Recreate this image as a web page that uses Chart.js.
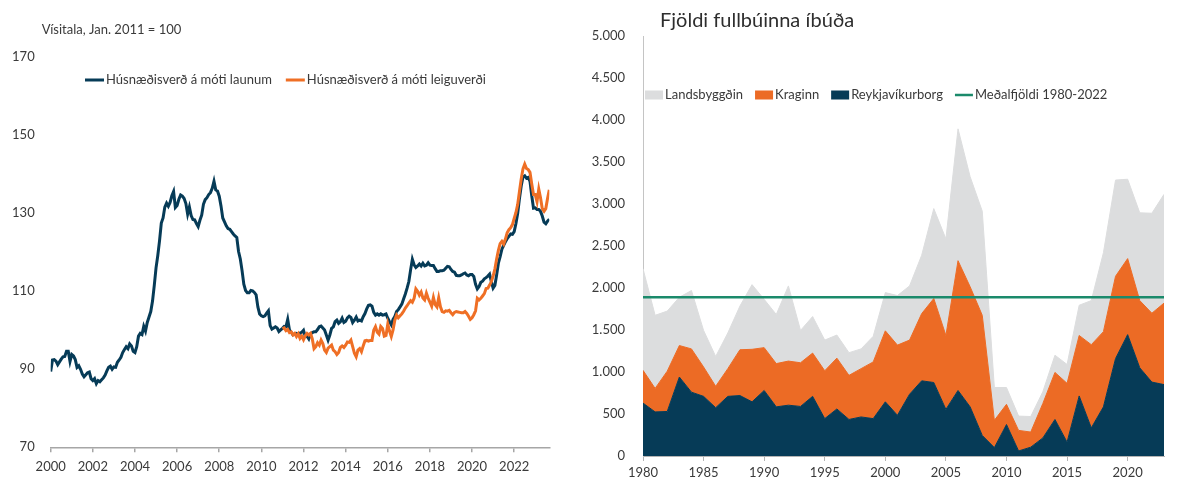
<!DOCTYPE html>
<html lang="is">
<head>
<meta charset="utf-8">
<title>Húsnæðisverð og fullbúnar íbúðir</title>
<script src="https://cdn.jsdelivr.net/npm/chart.js@4.4.1/dist/chart.umd.min.js"></script>
<style>
  html, body { margin: 0; padding: 0; background: #fff; }
  body { width: 1179px; height: 483px; position: relative; overflow: hidden; }
  .panel { position: absolute; top: 0; height: 483px; }
  #left { left: 0; width: 585px; }
  #right { left: 585px; width: 594px; }
</style>
</head>
<body>
<div class="panel" id="left"><canvas id="verdChart"></canvas></div>
<div class="panel" id="right"><canvas id="ibudirChart"></canvas></div>
<script>
// Vinstri mynd: vísitölur, mánaðargildi
const launumFra = 2000;   // jan. 2000
const launum = [
  89.4, 92.4, 92.5, 92.1, 91.2, 91.9, 92.6, 93.2, 93.3, 94.6, 94.6, 92.0,
  93.8, 93.4, 92.5, 90.5, 90.9, 90.0, 88.8, 88.1, 88.6, 89.1, 89.3, 87.6,
  87.1, 87.6, 86.3, 87.1, 86.8, 87.3, 87.8, 88.5, 89.6, 90.5, 90.8, 90.0,
  90.6, 90.5, 91.8, 92.4, 93.1, 94.3, 95.1, 95.8, 95.3, 96.5, 96.0, 94.6,
  94.3, 95.8, 98.5, 99.2, 98.9, 101.0, 99.8, 102.0, 103.4, 104.8, 107.5, 111.5,
  116.0, 119.2, 123.0, 127.5, 128.8, 131.6, 132.6, 131.8, 132.8, 134.5, 135.6, 131.5,
  132.0, 133.6, 134.7, 134.4, 133.8, 132.5, 129.8, 131.6, 129.4, 128.4, 128.3, 127.4,
  126.6, 128.2, 129.5, 132.3, 133.5, 134.0, 134.8, 135.3, 136.4, 138.2, 136.0, 135.7,
  134.4, 131.9, 128.8, 127.8, 126.8, 126.1, 125.9, 125.3, 124.7, 124.2, 123.8, 120.2,
  118.3, 115.3, 111.8, 110.2, 109.6, 109.6, 110.2, 110.1, 109.7, 109.1, 106.0, 104.2,
  103.7, 103.5, 103.7, 104.4, 105.0, 101.2, 100.3, 100.6, 100.9, 100.6, 99.7, 100.1,
  100.5, 101.0, 100.9, 102.8, 100.1, 99.5, 98.8, 99.0, 99.2, 98.9, 99.3, 99.5,
  100.0, 98.4, 98.5, 97.8, 99.1, 99.4, 99.6, 99.6, 100.2, 100.9, 101.1, 100.6,
  100.1, 98.8, 97.5, 98.8, 100.5, 100.9, 102.2, 102.6, 101.8, 102.2, 103.1, 102.0,
  102.3, 103.2, 103.6, 103.3, 102.0, 102.6, 103.4, 102.4, 102.6, 102.4, 103.5, 104.3,
  105.5, 106.4, 106.5, 106.2, 104.6, 103.9, 104.2, 103.9, 104.2, 103.9, 104.0, 104.2,
  103.1, 102.2, 101.4, 102.8, 103.5, 104.8, 105.3, 106.0, 106.7, 108.0, 109.3, 110.8,
  112.5, 115.5, 118.2, 116.8, 116.1, 116.5, 117.0, 116.5, 117.2, 116.5, 116.7, 117.3,
  116.7, 116.6, 116.6, 115.8, 115.1, 115.1, 115.3, 115.3, 115.4, 115.9, 116.4, 116.3,
  115.6, 115.1, 114.9, 114.1, 114.0, 114.0, 114.2, 114.5, 114.7, 114.2, 114.0, 114.3,
  114.3, 113.8, 111.8, 110.6, 111.2, 112.3, 112.6, 113.2, 113.5, 113.9, 114.4, 112.5,
  110.8, 111.5, 114.2, 117.2, 118.9, 120.8, 121.8, 122.7, 123.5, 124.1, 124.7, 124.6,
  125.3, 127.4, 130.0, 133.8, 137.0, 139.3, 139.6, 139.0, 139.2, 138.2, 134.5, 131.3,
  131.4, 131.0, 131.0, 130.5, 129.3, 127.7, 127.3, 128.0, 128.5
];
const leiguFra = 2011;    // jan. 2011
const leiguverdi = [
  100.4, 100.6, 99.9, 100.2, 99.4, 99.6, 98.8, 99.2, 98.4, 99.1, 97.9, 98.5,
  97.6, 98.6, 99.2, 98.8, 99.2, 97.8, 95.3, 95.8, 96.8, 96.2, 97.5, 96.6,
  94.9, 94.3, 95.4, 95.8, 96.2, 94.9, 94.5, 93.8, 94.3, 95.6, 96.0, 95.6,
  96.2, 97.0, 96.9, 97.5, 95.8, 94.1, 93.2, 94.9, 95.3, 94.5, 96.0, 97.3,
  97.4, 97.2, 97.4, 97.4, 100.0, 100.9, 99.5, 99.0, 101.0, 100.5, 98.5, 98.7,
  101.6, 99.8, 98.4, 100.1, 102.6, 103.9, 103.2, 103.7, 104.2, 104.9, 105.7, 106.3,
  107.0, 107.6, 107.2, 108.2, 110.6, 110.0, 109.0, 109.8, 108.3, 107.8, 109.5, 108.2,
  107.2, 106.2, 108.4, 106.6, 106.0, 108.3, 106.0, 104.8, 104.6, 105.0, 104.9, 105.1,
  104.5, 104.0, 104.6, 104.8, 104.7, 104.6, 104.5, 104.5, 104.8, 104.3, 103.6, 102.8,
  103.2, 104.0, 105.0, 108.2, 107.8, 108.2, 108.8, 109.4, 110.7, 110.8, 111.6, 112.5,
  113.9, 115.7, 118.3, 120.5, 122.2, 122.8, 122.1, 123.4, 125.0, 125.8, 126.3, 127.1,
  128.7, 130.2, 132.3, 135.6, 138.8, 141.4, 142.6, 141.5, 141.2, 140.5, 137.5, 134.8,
  134.8, 133.0, 136.2, 134.0, 131.2, 130.5, 131.2, 133.8, 136.0
];
const visitalaTicks = [70, 90, 110, 130, 150, 170];
const verdArTicks = [2000, 2002, 2004, 2006, 2008, 2010, 2012, 2014, 2016, 2018, 2020, 2022];

// Hægri mynd: fullbúnar íbúðir eftir landsvæðum
const ar = [1980, 1981, 1982, 1983, 1984, 1985, 1986, 1987, 1988, 1989,
            1990, 1991, 1992, 1993, 1994, 1995, 1996, 1997, 1998, 1999,
            2000, 2001, 2002, 2003, 2004, 2005, 2006, 2007, 2008, 2009,
            2010, 2011, 2012, 2013, 2014, 2015, 2016, 2017, 2018, 2019,
            2020, 2021, 2022, 2023];
const reykjavik = [630, 525, 530, 940, 760, 710, 575, 710, 720, 645,
                   780, 585, 605, 590, 710, 445, 560, 435, 465, 445,
                   645, 485, 735, 895, 875, 555, 780, 585, 245, 100,
                   375, 60, 105, 215, 435, 165, 715, 335, 585, 1160,
                   1445, 1050, 880, 850];
const kraginn = [390, 280, 480, 375, 515, 350, 255, 330, 545, 625,
                 510, 515, 525, 520, 515, 570, 605, 525, 575, 675,
                 845, 835, 645, 800, 1000, 880, 1545, 1430, 1430, 325,
                 240, 245, 180, 410, 560, 700, 720, 990, 895, 980,
                 905, 800, 820, 970];
const landsbyggdin = [1210, 870, 715, 575, 695, 435, 355, 425, 520, 770,
                      575, 585, 895, 385, 435, 365, 275, 270, 235, 305,
                      455, 590, 645, 695, 1070, 1150, 1570, 1310, 1240, 390,
                      200, 170, 185, 140, 205, 225, 360, 525, 940, 1145,
                      945, 1045, 1190, 1295];
const medalfjoldi = 1890;
const ibudirTicks = [0, 500, 1000, 1500, 2000, 2500, 3000, 3500, 4000, 4500, 5000];
const ibudirArTicks = [1980, 1985, 1990, 1995, 2000, 2005, 2010, 2015, 2020];

const FONT = "Lato, 'Noto Sans', sans-serif";
const TEXT = '#3a3a3a';
const NAVY = '#063b57';
const ORANGE = '#ec6b25';
const GREY = '#dcddde';
const GREEN = '#1b8a6b';

Chart.defaults.font.family = FONT;
Chart.defaults.font.size = 13;
Chart.defaults.color = TEXT;

const manadir = (fra, gildi) => gildi.map((v, i) => ({ x: fra + i / 12, y: v }));
const arlega = (gildi) => gildi.map((v, i) => ({ x: ar[i], y: v }));
const punktar = (gildi) => (scale) => { scale.ticks = gildi.map(v => ({ value: v })); };
const thusund = (v) => String(v).replace(/\B(?=(\d{3})+(?!\d))/g, '.');

// texti fyrir ofan teiknisvæðið (eining / fyrirsögn)
const yfirskrift = {
  id: 'yfirskrift',
  afterDraw(chart, args, opts) {
    if (!opts.text) return;
    const { ctx, chartArea } = chart;
    ctx.save();
    ctx.font = opts.font;
    ctx.fillStyle = opts.color || TEXT;
    ctx.textBaseline = 'middle';
    ctx.fillText(opts.text, chartArea.left + opts.dx, opts.y);
    ctx.restore();
  }
};

// skýringar í einni línu inni á teiknisvæðinu
const skyringar = {
  id: 'skyringar',
  afterDraw(chart, args, opts) {
    const { ctx, chartArea } = chart;
    ctx.save();
    ctx.font = opts.font;
    ctx.textBaseline = 'middle';
    let x = chartArea.left + opts.dx;
    const y = opts.y;
    opts.order.forEach(i => {
      const ds = chart.data.datasets[i];
      if (ds.pointStyle === 'rect') {
        ctx.fillStyle = ds.backgroundColor;
        ctx.fillRect(x, y - opts.boxH / 2, opts.box, opts.boxH);
      } else {
        ctx.strokeStyle = ds.borderColor;
        ctx.lineWidth = ds.borderWidth;
        ctx.beginPath();
        ctx.moveTo(x, y);
        ctx.lineTo(x + opts.box, y);
        ctx.stroke();
      }
      x += opts.box + opts.gap;
      ctx.fillStyle = opts.color || TEXT;
      ctx.fillText(ds.label, x, y);
      x += ctx.measureText(ds.label).width + opts.spacing;
    });
    ctx.restore();
  }
};

new Chart(document.getElementById('verdChart'), {
  type: 'line',
  plugins: [yfirskrift, skyringar],
  data: {
    datasets: [
      {
        label: 'Húsnæðisverð á móti leiguverði',
        data: manadir(leiguFra, leiguverdi),
        borderColor: '#ef6f25',
        backgroundColor: '#ef6f25',
        borderWidth: 3,
        pointRadius: 0,
        pointStyle: 'line',
        tension: 0
      },
      {
        label: 'Húsnæðisverð á móti launum',
        data: manadir(launumFra, launum),
        borderColor: NAVY,
        backgroundColor: NAVY,
        borderWidth: 3,
        pointRadius: 0,
        pointStyle: 'line',
        tension: 0
      }
    ]
  },
  options: {
    responsive: true,
    maintainAspectRatio: false,
    animation: false,
    layout: { padding: { left: 0, right: 35.7, top: 57.3, bottom: 0 } },
    plugins: {
      tooltip: { enabled: false },
      legend: { display: false },
      yfirskrift: { text: 'Vísitala, Jan. 2011 = 100', dx: -9, y: 30, font: '13px ' + FONT },
      skyringar: { order: [1, 0], dx: 34.3, y: 80, box: 19, boxH: 3, gap: 2, spacing: 14, font: '13px ' + FONT }
    },
    scales: {
      x: {
        type: 'linear',
        min: 2000,
        max: 2000 + 284 / 12,
        afterBuildTicks: punktar(verdArTicks),
        grid: { display: true, drawOnChartArea: false, drawTicks: true, tickLength: 5, color: '#a6a6a6', lineWidth: 1.5 },
        border: { display: true, color: '#a6a6a6', width: 1.5 },
        ticks: { padding: 7, maxRotation: 0, autoSkip: false, callback: v => String(v) },
        afterFit: s => { s.height = 35.7; }
      },
      y: {
        min: 70,
        max: 170,
        afterBuildTicks: punktar(visitalaTicks),
        grid: { display: false, drawTicks: false },
        border: { display: false },
        ticks: { padding: 16 },
        afterFit: s => { s.width = 50.7; }
      }
    }
  }
});

new Chart(document.getElementById('ibudirChart'), {
  type: 'line',
  plugins: [yfirskrift, skyringar],
  data: {
    datasets: [
      {
        label: 'Meðalfjöldi 1980-2022',
        data: ar.map(a => ({ x: a, y: medalfjoldi })),
        borderColor: GREEN,
        backgroundColor: GREEN,
        borderWidth: 2.5,
        fill: false,
        stack: 'medal',
        pointRadius: 0,
        pointStyle: 'line'
      },
      {
        label: 'Reykjavíkurborg',
        data: arlega(reykjavik),
        borderColor: NAVY,
        backgroundColor: NAVY,
        borderWidth: 1,
        fill: 'origin',
        stack: 'ibudir',
        pointRadius: 0,
        pointStyle: 'rect'
      },
      {
        label: 'Kraginn',
        data: arlega(kraginn),
        borderColor: ORANGE,
        backgroundColor: ORANGE,
        borderWidth: 1,
        fill: '-1',
        stack: 'ibudir',
        pointRadius: 0,
        pointStyle: 'rect'
      },
      {
        label: 'Landsbyggðin',
        data: arlega(landsbyggdin),
        borderColor: GREY,
        backgroundColor: GREY,
        borderWidth: 1,
        fill: '-1',
        stack: 'ibudir',
        pointRadius: 0,
        pointStyle: 'rect'
      }
    ]
  },
  options: {
    responsive: true,
    maintainAspectRatio: false,
    animation: false,
    layout: { padding: { left: 0, right: 15, top: 36, bottom: 0 } },
    plugins: {
      tooltip: { enabled: false },
      legend: { display: false },
      yfirskrift: { text: 'Fjöldi fullbúinna íbúða', dx: 17, y: 21, font: '20px ' + FONT, color: '#2e2e2e' },
      skyringar: { order: [3, 2, 1, 0], dx: 2, y: 95, box: 18, boxH: 9, gap: 2, spacing: 12, font: '13px ' + FONT }
    },
    scales: {
      x: {
        type: 'linear',
        min: 1980,
        max: 2023,
        afterBuildTicks: punktar(ibudirArTicks),
        grid: { display: true, drawOnChartArea: false, drawTicks: true, tickLength: 5, color: '#b4b4b4' },
        border: { display: true, color: '#b4b4b4' },
        ticks: { padding: 4, maxRotation: 0, autoSkip: false, callback: v => String(v) },
        afterFit: s => { s.height = 27; }
      },
      y: {
        stacked: true,
        min: 0,
        max: 5000,
        afterBuildTicks: punktar(ibudirTicks),
        grid: { display: false, drawTicks: false },
        border: { display: true, color: '#c4c4c4' },
        ticks: { padding: 18, callback: v => thusund(v) },
        afterFit: s => { s.width = 58; }
      }
    }
  }
});
</script>
</body>
</html>
